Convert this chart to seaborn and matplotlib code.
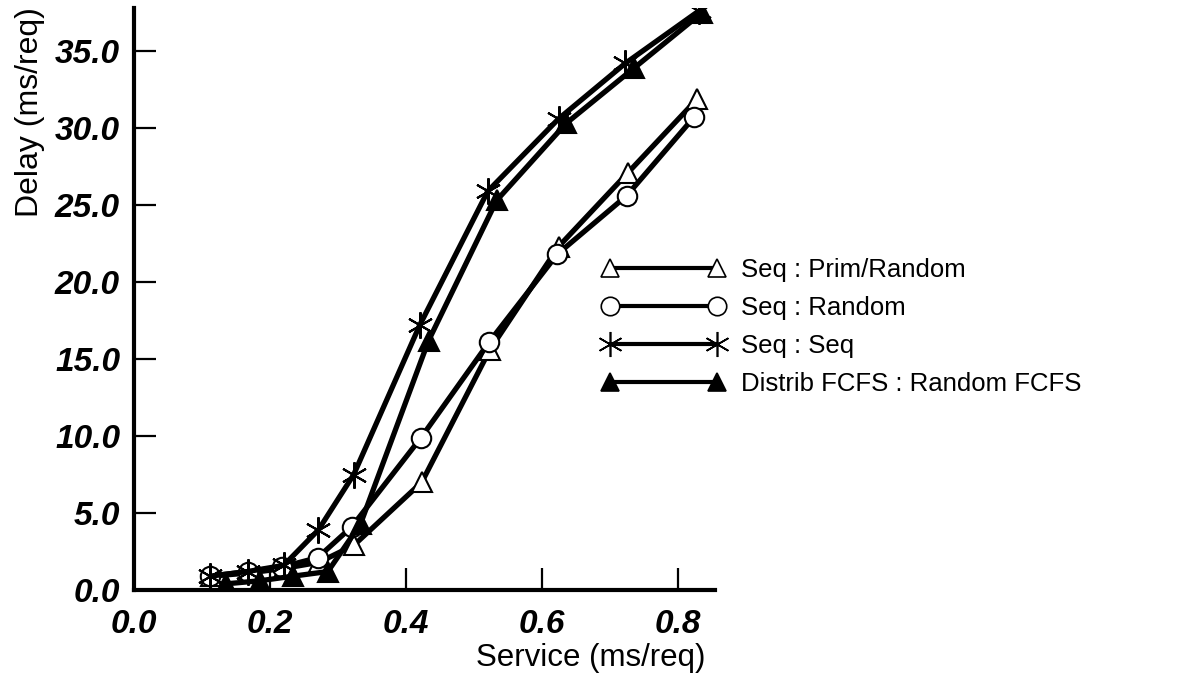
import matplotlib
matplotlib.use("Agg")
import matplotlib.pyplot as plt
import seaborn as sns
import numpy as np

sns.set_style("ticks")
plt.rcParams['font.family'] = ['Liberation Sans', 'DejaVu Sans']
plt.rcParams['text.color'] = 'black'
plt.rcParams['axes.labelcolor'] = 'black'
plt.rcParams['xtick.color'] = 'black'
plt.rcParams['ytick.color'] = 'black'

# ---- data ----
x_prim = [0.113, 0.168, 0.220, 0.272, 0.323, 0.423, 0.523, 0.624, 0.726, 0.828]
y_prim = [0.9, 1.1, 1.4, 1.8, 2.9, 7.0, 15.6, 22.3, 27.1, 31.9]

x_rand = [0.112, 0.167, 0.218, 0.270, 0.320, 0.422, 0.522, 0.622, 0.724, 0.823]
y_rand = [0.9, 1.2, 1.5, 2.1, 4.1, 9.9, 16.1, 21.8, 25.6, 30.7]

x_seq = [0.112, 0.167, 0.220, 0.271, 0.323, 0.420, 0.520, 0.624, 0.722, 0.830]
y_seq = [0.9, 1.2, 1.6, 3.9, 7.5, 17.2, 25.9, 30.6, 34.2, 37.6]

x_fcfs = [0.135, 0.185, 0.234, 0.285, 0.333, 0.433, 0.533, 0.635, 0.735, 0.835]
y_fcfs = [0.4, 0.6, 0.9, 1.2, 4.3, 16.2, 25.3, 30.3, 33.9, 37.5]

labels = ["Seq : Prim/Random", "Seq : Random", "Seq : Seq",
          "Distrib FCFS : Random FCFS"]
x_ticks = [0.0, 0.2, 0.4, 0.6, 0.8]
x_ticklabels = ["0.0", "0.2", "0.4", "0.6", "0.8"]
y_ticks = [0, 5, 10, 15, 20, 25, 30, 35]
y_ticklabels = ["0.0", "5.0", "10.0", "15.0", "20.0", "25.0", "30.0", "35.0"]

fig = plt.figure(figsize=(11.97, 6.82), dpi=100)
ax = fig.add_axes([134/1197, 1-590/682, (715-134)/1197, (590-8)/682])

series = [
    (x_prim, y_prim, dict(marker='^', markerfacecolor='white', markersize=14)),
    (x_rand, y_rand, dict(marker='o', markerfacecolor='white', markersize=14)),
    (x_seq, y_seq, dict(marker=(6, 2, 0), markerfacecolor='black', markersize=19)),
    (x_fcfs, y_fcfs, dict(marker='^', markerfacecolor='black', markersize=14)),
]
for (xs, ys, st), lab in zip(series, labels):
    sns.lineplot(x=xs, y=ys, ax=ax, color='black', linewidth=3.8, sort=False,
                 markeredgecolor='black', markeredgewidth=1.5,
                 label=lab, **st)

ax.set_xlim(0, 0.854)
ax.set_ylim(0, 37.8)
ax.set_xticks(x_ticks)
ax.set_xticklabels(x_ticklabels)
ax.set_yticks(y_ticks)
ax.set_yticklabels(y_ticklabels)
for t in ax.get_xticklabels() + ax.get_yticklabels():
    t.set_fontweight('bold')
    t.set_fontstyle('italic')
    t.set_fontsize(24)
    t.set_color('black')
ax.tick_params(axis='both', direction='in', length=16, width=1.6, color='black')
ax.tick_params(axis='x', pad=14)
ax.tick_params(axis='y', pad=10)

for s in ['top', 'right']:
    ax.spines[s].set_visible(False)
for s in ['left', 'bottom']:
    ax.spines[s].set_linewidth(3)
    ax.spines[s].set_color('black')

ax.set_xlabel("Service (ms/req)", fontsize=22.5)
ax.set_ylabel("Delay (ms/req)", fontsize=23)
ax.xaxis.set_label_coords((591-134)/581, -(658-590)/582)
ax.yaxis.set_label_coords((30-134)/581, (590-112)/582)
ax.xaxis.label.set_va('center')
ax.yaxis.label.set_va('center')

leg = ax.legend(loc='center left', bbox_to_anchor=(589/1197, 1-327/682),
                bbox_transform=fig.transFigure, frameon=False, fontsize=18.5,
                numpoints=2, handlelength=4.8, handletextpad=0.6,
                labelspacing=0.55, borderpad=0, markerscale=0.95)
for h in leg.legend_handles:
    h.set_linewidth(3)
    h.set_markeredgewidth(1.2)
for t in leg.get_texts():
    t.set_color('black')

fig.savefig("out.png", dpi=100, facecolor='white')
